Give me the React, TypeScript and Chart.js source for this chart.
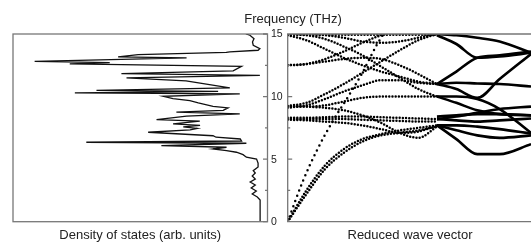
import React, { useEffect, useRef } from "react";
import { Chart, registerables } from "chart.js";
Chart.register(...registerables);

const W = 531;
const H = 242;
const FONT = "'Liberation Sans', Arial, Helvetica, sans-serif";

// ---------- Density of states (frequency in THz, density in arb. units) ----------
const dosFrequency = [
  0, 1.73, 1.97, 2.21, 2.45, 2.69, 2.93, 3.17, 3.41, 3.65,
  3.89, 4.08, 4.37, 4.69, 5.01, 5.15, 5.36, 5.55, 5.68, 5.81,
  5.95, 6.08, 6.27, 6.35, 6.45, 6.61, 6.75, 6.87, 7.15, 7.33,
  7.45, 7.57, 7.69, 7.81, 8.03, 8.15, 8.43, 8.61, 8.75, 8.9,
  9.09, 9.22, 9.49, 9.67, 9.83, 10.02, 10.21, 10.29, 10.42, 10.5,
  10.69, 11.25, 11.49, 11.7, 11.83, 12.05, 12.42, 12.61, 12.71, 12.82,
  13.09, 13.17, 13.35, 13.53, 13.57, 13.7, 13.83, 14.1, 14.36, 14.63,
  14.9, 15.0,
];
const dosDensity = [
  2.9, 2.9, 4.0, 6.0, 4.4, 6.4, 4.8, 6.8, 4.8, 6.0,
  4.8, 5.6, 3.7, 3.7, 4.3, 8.3, 9.6, 12.2, 16.1, 21.4,
  16.1, 41.7, 8.3, 71.2, 10.2, 10.7, 20.2, 21.4, 46.9, 30.4,
  27.6, 33.1, 26.5, 37.1, 26.6, 43.6, 31.8, 10.9, 35.8, 17.4,
  15.5, 21.4, 27.2, 30.5, 37.1, 41.0, 10.9, 75.7, 19.4, 67.2,
  14.8, 32.0, 55.4, 3.0, 57.4, 13.5, 10.2, 77.7, 62.0, 91.5,
  31.8, 58.7, 50.8, 16.2, 14.8, 3.7, 3.0, 5.6, 5.9, 5.3,
  6.9, 8.5,
];

// ---------- Axis ticks ----------
const freqMajorTicks = [0, 5, 10, 15];
const freqMinorTicks = [2.5, 7.5, 12.5];
const freqTickLabels = ["0", "5", "10", "15"];

// ---------- Dispersion: dotted part (reduced wave vector 0..1) ----------
const qDotted = [0, 0.125, 0.25, 0.375, 0.5, 0.625, 0.75, 0.875, 1];
const qLA = [0, 0.1, 0.2, 0.3, 0.4, 0.5, 0.6, 0.7];
const laBranch = [0, 3.2, 5.8, 8.0, 9.9, 11.9, 14.2, 16.0];
const ta1Branch = [0, 2.5, 4.5, 5.8, 6.6, 7.0, 7.3, 7.5, 7.7];
const ta2Branch = [0, 2.2, 4.2, 5.5, 6.4, 6.9, 7.1, 7.3, 7.6];
const opt1Branch = [8.3, 8.3, 8.35, 8.4, 8.4, 8.35, 8.3, 8.25, 8.2];
const opt2Branch = [8.2, 8.2, 8.2, 8.2, 8.15, 8.1, 8.05, 8.0, 8.0];
const opt3Branch = [8.15, 8.1, 8.0, 7.9, 7.7, 7.4, 7.1, 7.2, 7.7];
const opt4Branch = [9.25, 9.2, 9.1, 8.9, 8.5, 7.9, 7.1, 6.7, 7.6];
const opt5Branch = [9.2, 9.2, 9.3, 9.6, 9.9, 10.0, 10.0, 10.0, 10.0];
const opt6Branch = [9.1, 9.3, 9.8, 10.4, 10.9, 11.3, 11.3, 11.1, 11.0];
const opt7Branch = [9.25, 9.5, 10.2, 11.0, 11.9, 12.8, 13.7, 14.5, 15.0];
const opt8Branch = [12.5, 12.6, 13.0, 13.6, 14.3, 14.9, 15.3, 15.5, 15.5];
const opt9Branch = [12.5, 12.6, 12.8, 13.0, 13.1, 13.0, 12.5, 11.8, 11.0];
const opt10Branch = [14.9, 14.5, 13.8, 13.1, 12.5, 12.0, 11.6, 11.2, 11.0];
const opt11Branch = [15.0, 14.9, 14.6, 14.0, 13.3, 12.4, 11.5, 10.6, 10.0];
const opt12Branch = [15.0, 15.0, 14.9, 14.7, 14.4, 14.3, 14.4, 14.7, 15.0];
const opt13Branch = [14.95, 14.95, 14.95, 14.95, 14.95, 14.95, 14.95, 14.95, 14.95];

// ---------- Dispersion: solid part (reduced wave vector 1..1.63) ----------
const qSolid = [1, 1.13, 1.27, 1.42, 1.63];
const sol1Branch = [15.0, 14.9, 14.7, 14.4, 13.5];
const sol2Branch = [14.9, 14.2, 13.1, 13.2, 13.5];
const sol3Branch = [11.0, 12.0, 13.1, 13.3, 13.6];
const sol4Branch = [11.0, 11.1, 11.05, 11.0, 10.8];
const sol5Branch = [11.0, 10.6, 9.9, 11.4, 13.4];
const sol6Branch = [10.0, 10.0, 9.8, 9.0, 7.1];
const sol7Branch = [10.0, 9.5, 8.9, 8.6, 8.5];
const sol8Branch = [8.4, 8.5, 8.6, 8.6, 8.5];
const sol9Branch = [8.2, 8.1, 8.0, 8.1, 8.25];
const sol10Branch = [8.2, 8.4, 8.7, 9.0, 9.2];
const sol11Branch = [7.7, 7.7, 7.6, 7.4, 7.05];
const sol12Branch = [7.7, 6.6, 5.4, 5.4, 6.2];
const sol13Branch = [7.7, 7.3, 6.9, 6.7, 6.9];

const dottedBranches = [
  ta1Branch, ta2Branch, opt1Branch, opt2Branch, opt3Branch, opt4Branch,
  opt5Branch, opt6Branch, opt7Branch, opt8Branch, opt9Branch, opt10Branch,
  opt11Branch, opt12Branch, opt13Branch,
];
const solidBranches = [
  sol1Branch, sol2Branch, sol3Branch, sol4Branch, sol5Branch, sol6Branch,
  sol7Branch, sol8Branch, sol9Branch, sol10Branch, sol11Branch, sol12Branch,
  sol13Branch,
];

// ---------- Layout ----------
const LEFT_AREA = { left: 13, right: 267.5, top: 34, bottom: 221.7 };
const RIGHT_AREA = { left: 287.7, right: 531, top: 34, bottom: 221.7 };
const Q_MAX = 1.63;

const AXIS_COLOR = "#777";
const TEXT_COLOR = "#222";

const leftFrame = {
  id: "leftFrame",
  afterDatasetsDraw(chart: any) {
    const { ctx, chartArea: a } = chart;
    const y = chart.scales.y;
    ctx.save();
    ctx.strokeStyle = AXIS_COLOR;
    ctx.lineWidth = 1.3;
    ctx.strokeRect(a.left, a.top, a.right - a.left, a.bottom - a.top);
    ctx.beginPath();
    freqMajorTicks.forEach((v) => {
      const py = y.getPixelForValue(v);
      ctx.moveTo(a.right, py);
      ctx.lineTo(a.right - 4.5, py);
    });
    freqMinorTicks.forEach((v) => {
      const py = y.getPixelForValue(v);
      ctx.moveTo(a.right, py);
      ctx.lineTo(a.right - 2.5, py);
    });
    ctx.stroke();
    ctx.fillStyle = TEXT_COLOR;
    ctx.font = `13px ${FONT}`;
    ctx.textAlign = "center";
    ctx.textBaseline = "alphabetic";
    ctx.fillText("Density of states (arb. units)", (a.left + a.right) / 2, 238.5);
    ctx.restore();
  },
};

const rightFrame = {
  id: "rightFrame",
  afterDatasetsDraw(chart: any) {
    const { ctx, chartArea: a } = chart;
    const y = chart.scales.y;
    ctx.save();
    ctx.strokeStyle = AXIS_COLOR;
    ctx.lineWidth = 1.3;
    ctx.beginPath();
    ctx.moveTo(W, a.top);
    ctx.lineTo(a.left, a.top);
    ctx.lineTo(a.left, a.bottom);
    ctx.lineTo(W, a.bottom);
    freqMajorTicks.forEach((v) => {
      const py = y.getPixelForValue(v);
      ctx.moveTo(a.left, py);
      ctx.lineTo(a.left + 4.5, py);
    });
    freqMinorTicks.forEach((v) => {
      const py = y.getPixelForValue(v);
      ctx.moveTo(a.left, py);
      ctx.lineTo(a.left + 2.5, py);
    });
    ctx.stroke();
    ctx.fillStyle = TEXT_COLOR;
    ctx.font = `10.5px ${FONT}`;
    ctx.textAlign = "left";
    ctx.textBaseline = "middle";
    freqMajorTicks.forEach((v, i) => {
      ctx.fillText(freqTickLabels[i], 271, y.getPixelForValue(v) + 0.5);
    });
    ctx.font = `13px ${FONT}`;
    ctx.textAlign = "center";
    ctx.textBaseline = "alphabetic";
    ctx.fillText("Frequency (THz)", 293, 23);
    ctx.fillText("Reduced wave vector", 410, 238.5);
    ctx.restore();
  },
};

function padFor(area: { left: number; right: number; top: number; bottom: number }) {
  return { left: area.left, right: W - area.right, top: area.top, bottom: H - area.bottom };
}

export default function App() {
  const leftRef = useRef<HTMLCanvasElement>(null);
  const rightRef = useRef<HTMLCanvasElement>(null);

  useEffect(() => {
    const dosData = dosFrequency.map((f, i) => ({ x: dosDensity[i], y: f }));
    const left = new Chart(leftRef.current as HTMLCanvasElement, {
      type: "scatter",
      data: {
        datasets: [
          {
            data: dosData,
            showLine: true,
            borderColor: "#111",
            borderWidth: 1.3,
            pointRadius: 0,
            tension: 0,
          } as any,
        ],
      },
      options: {
        animation: false,
        responsive: false,
        devicePixelRatio: 1,
        events: [],
        layout: { padding: padFor(LEFT_AREA) },
        scales: {
          x: { display: false, reverse: true, min: 0, max: 100 },
          y: { display: false, min: 0, max: 15 },
        },
        plugins: { legend: { display: false }, tooltip: { enabled: false } },
      },
      plugins: [leftFrame],
    });

    const datasets: any[] = [];
    dottedBranches.forEach((b) => {
      datasets.push({
        data: b.map((f, i) => ({ x: qDotted[i], y: f })),
        showLine: true,
        borderColor: "#000",
        borderWidth: 2.5,
        borderDash: [0, 3.2],
        borderCapStyle: "round",
        pointRadius: 0,
        cubicInterpolationMode: "monotone",
      });
    });
    datasets.push({
      data: laBranch.map((f, i) => ({ x: qLA[i], y: f })),
      showLine: true,
      borderColor: "#000",
      borderWidth: 2.5,
      borderDash: [0, 5.5],
      borderCapStyle: "round",
      pointRadius: 0,
      cubicInterpolationMode: "monotone",
    });
    solidBranches.forEach((b) => {
      datasets.push({
        data: b.map((f, i) => ({ x: qSolid[i], y: f })),
        showLine: true,
        borderColor: "#000",
        borderWidth: 2.6,
        pointRadius: 0,
        cubicInterpolationMode: "monotone",
      });
    });

    const right = new Chart(rightRef.current as HTMLCanvasElement, {
      type: "scatter",
      data: { datasets },
      options: {
        animation: false,
        responsive: false,
        devicePixelRatio: 1,
        events: [],
        layout: { padding: padFor(RIGHT_AREA) },
        scales: {
          x: { display: false, min: 0, max: Q_MAX },
          y: { display: false, min: 0, max: 15 },
        },
        plugins: { legend: { display: false }, tooltip: { enabled: false } },
      },
      plugins: [rightFrame],
    });

    return () => {
      left.destroy();
      right.destroy();
    };
  }, []);

  return (
    <div style={{ position: "fixed", left: 0, top: 0, width: W, height: H, background: "#fff" }}>
      <canvas ref={leftRef} width={W} height={H} style={{ position: "absolute", left: 0, top: 0 }} />
      <canvas ref={rightRef} width={W} height={H} style={{ position: "absolute", left: 0, top: 0 }} />
    </div>
  );
}
